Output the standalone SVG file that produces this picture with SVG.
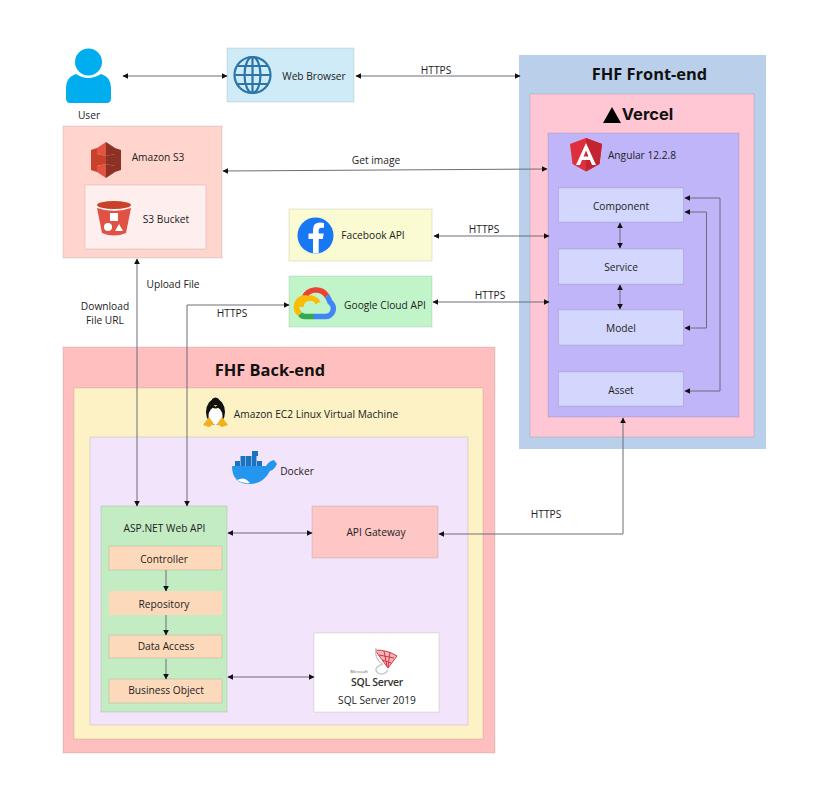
<svg xmlns="http://www.w3.org/2000/svg" width="830" height="800" viewBox="0 0 830 800">
<style>
text{font-family:"Open Sans","Noto Sans","Liberation Sans",sans-serif;font-size:10.200px;fill:#222;text-anchor:middle}
.h{font-size:16.400px;font-weight:700;fill:#111}
.b{stroke:#000;stroke-opacity:.1;stroke-width:1}
.c{fill:none;stroke:#6d6d7a;stroke-width:1;marker-start:url(#a);marker-end:url(#a)}
.e{fill:none;stroke:#6d6d7a;stroke-width:1;marker-end:url(#a)}
</style>
<defs>
<marker id="a" viewBox="0 0 10 10" refX="9" refY="5" markerWidth="6" markerHeight="6" markerUnits="userSpaceOnUse" orient="auto-start-reverse"><path d="M0 0L10 5L0 10Z" fill="#111"/></marker>
</defs>
<rect width="830" height="800" fill="#fff"/>

<g id="user">
<circle cx="88.500" cy="62" r="13.500" fill="#00adef"/>
<path d="M70 103Q66 103 66 98V88Q66 77 76 74Q88 82 101 74Q111 77 111 88V98Q111 103 107 103Z" fill="#00adef"/>
<text x="89" y="119">User</text>
</g>

<g id="web-browser">
<rect class="b" x="227" y="48" width="127" height="54" fill="#cfebf7"/>
<g fill="none" stroke="#2a76a8" stroke-width="2.200">
<circle cx="252.500" cy="75" r="18"/><ellipse cx="252.500" cy="75" rx="8" ry="18"/>
<path d="M252.500 57V93M234.500 75H270.500M237 66H268M237 84H268"/>
</g>
<text x="314" y="80">Web Browser</text>
</g>

<g id="amazon-s3">
<rect class="b" x="63" y="126" width="159" height="132" fill="#ffd5ce"/>
<path d="M91 150L97 148V172L91 170Z" fill="#c8412b"/>
<path d="M121 150L115 148V172L121 170Z" fill="#8c3123"/>
<path d="M97 148L106 142V156L97 154Z" fill="#e05243"/>
<path d="M115 148L106 142V156L115 154Z" fill="#8c3123"/>
<path d="M97 154L106 156V164L97 166Z" fill="#c8412b"/>
<path d="M115 154L106 156V164L115 166Z" fill="#8c3123"/>
<path d="M97 166L106 164V178L97 172Z" fill="#e05243"/>
<path d="M115 166L106 164V178L115 172Z" fill="#8c3123"/>
<text x="158" y="161">Amazon S3</text>
</g>

<g id="s3-bucket">
<rect class="b" x="85" y="185" width="121" height="64" fill="#ffeeee"/>
<ellipse cx="114" cy="205" rx="17" ry="4" fill="#c8412b"/>
<path d="M97 208Q114 214 131 208L126 233Q114 238 102 233Z" fill="#e05243"/>
<rect x="110" y="213" width="8" height="8" fill="#fff"/>
<circle cx="108" cy="227" r="4" fill="#fff"/>
<path d="M115 231L119 224L123 231Z" fill="#fff"/>
<text x="166" y="223">S3 Bucket</text>
</g>

<g id="facebook-api">
<rect class="b" x="289" y="209" width="143" height="52" fill="#fbfbd3"/>
<circle cx="315.500" cy="235.500" r="18" fill="#1877f2"/>
<path d="M313 253.300V239H308.500V233.500H313V229.500Q313 222.500 320 222.500L324 223V227.800H321.500Q318.700 227.800 318.700 230.500V233.500H323.700L322.800 239H318.700V253.300Z" fill="#fff"/>
<text x="373" y="239">Facebook API</text>
</g>

<g id="google-cloud-api">
<rect class="b" x="289" y="276" width="143" height="51" fill="#c1f5c9"/>
<g fill="none" stroke-width="5.500">
<path d="M304 298A13 13 0 0 1 327 296" stroke="#ea4335"/>
<path d="M327 296Q329 299 330 302A8 8 0 0 1 325 316.500H314" stroke="#4285f4"/>
<path d="M314 316.500H305Q302 316.500 300 314" stroke="#34a853"/>
<path d="M300 314A9 9 0 0 1 304 298H307" stroke="#fbbc05"/>
<path d="M301 307A9 9 0 0 1 318 303" stroke="#fbbc05"/>
</g>
<text x="385" y="309">Google Cloud API</text>
</g>

<g id="fhf-front-end">
<rect x="519" y="55" width="247" height="394" fill="#b9cfea"/>
<text class="h" x="649.500" y="79.500">FHF Front-end</text>
</g>

<g id="vercel">
<rect class="b" x="530" y="94" width="224" height="343" fill="#ffc6d4"/>
<path d="M603 123L612 107L621 123Z" fill="#000"/>
<text x="647.500" y="120" style="font-size:16.500px;font-weight:700;font-family:Inter,'Liberation Sans',sans-serif;fill:#111">Vercel</text>
</g>

<g id="angular">
<rect class="b" x="548" y="133" width="191" height="284" fill="#bfb5f8"/>
<path d="M586 138L570 144L572.500 164L586 171.500L599.500 164L602 144Z" fill="#dd2f3d"/>
<path d="M586 138L602 144L599.500 164L586 171.500Z" fill="#c3242f"/>
<path d="M586 143L576 165H580L582 160H590L592 165H596ZM583.500 156.500L586 150.500L588.500 156.500Z" fill="#fff"/>
<text x="642" y="159">Angular 12.2.8</text>
</g>

<g id="component"><rect class="b" x="558.500" y="188" width="125" height="34" fill="#d3d7fd"/><text x="621" y="210">Component</text></g>
<g id="service"><rect class="b" x="558.500" y="249" width="125" height="35" fill="#d3d7fd"/><text x="621" y="271">Service</text></g>
<g id="model"><rect class="b" x="558.500" y="310" width="125" height="35" fill="#d3d7fd"/><text x="621" y="332">Model</text></g>
<g id="asset"><rect class="b" x="558.500" y="372" width="125" height="34" fill="#d3d7fd"/><text x="621" y="394">Asset</text></g>

<g id="fhf-back-end">
<rect class="b" x="63" y="347" width="432" height="406" fill="#ffbfbf"/>
<text class="h" x="270" y="376">FHF Back-end</text>
</g>

<g id="ec2">
<rect class="b" x="74" y="388" width="409" height="351" fill="#fcf2c5"/>
<ellipse cx="215.500" cy="412" rx="9.500" ry="13" fill="#111"/>
<ellipse cx="215.500" cy="416" rx="7" ry="9" fill="#fff"/>
<ellipse cx="215.500" cy="403" rx="4.500" ry="5.500" fill="#111"/>
<path d="M203 425L209 417L214 424L209 427ZM228 425L222 417L217 424L222 427Z" fill="#f2b01e"/>
<path d="M213.500 405H217.500L215.500 407Z" fill="#f2b01e"/>
<text x="316" y="418">Amazon EC2 Linux Virtual Machine</text>
</g>

<g id="docker">
<rect class="b" x="90" y="437" width="378" height="288" fill="#f2e4fa"/>
<path d="M232 466H266Q269 461 274 460L277 464H277Q274 470 270 471Q263 484 250 484Q232 484 232 466Z" fill="#2496ed"/>
<g fill="#1a72c0"><rect x="235" y="461" width="5" height="5"/><rect x="240.500" y="461" width="5" height="5"/><rect x="246" y="461" width="5" height="5"/><rect x="251.500" y="461" width="5" height="5"/><rect x="257" y="461" width="5" height="5"/><rect x="240.500" y="456" width="5" height="5"/><rect x="246" y="456" width="5" height="5"/><rect x="251.500" y="456" width="5" height="5"/><rect x="252" y="451" width="6" height="5"/></g>
<path d="M237 480Q243 477 247 480L250 483Q243 484 237 480Z" fill="#fff"/>
<text x="297" y="475">Docker</text>
</g>

<g id="asp-net-web-api">
<rect class="b" x="101" y="506" width="126" height="206" fill="#c3ecc3"/>
<text x="164.500" y="532">ASP.NET Web API</text>
</g>
<g id="controller"><rect class="b" x="109" y="546" width="113" height="24" fill="#fdd9bb"/><text x="164" y="563">Controller</text></g>
<g id="repository"><rect x="109" y="591" width="113" height="24" fill="#fdd9bb"/><text x="164" y="608">Repository</text></g>
<g id="data-access"><rect class="b" x="109" y="635" width="113" height="23" fill="#fdd9bb"/><text x="166" y="650">Data Access</text></g>
<g id="business-object"><rect class="b" x="109" y="679" width="113" height="24" fill="#fdd9bb"/><text x="166" y="694">Business Object</text></g>

<g id="api-gateway">
<rect class="b" x="312" y="506" width="126" height="52" fill="#ffc6c6"/>
<text x="376" y="536">API Gateway</text>
</g>

<g id="sql-server">
<rect class="b" x="314" y="633" width="125" height="79" fill="#fff"/>
<g fill="none" stroke="#d8343f" stroke-width="1">
<path d="M375 650Q388 650 397 656L388 668Q382 660 375 650Z" fill="#d8343f" fill-opacity=".35"/>
<path d="M379 655L394 658M382 660L391 663M384 651L387 666M390 652L388 667"/>
</g>
<path d="M376 648Q374 658 382 664" fill="none" stroke="#ccc" stroke-width="1.500"/>
<path d="M383 664Q372 668 378 673Q384 676 388 670" fill="none" stroke="#ccc" stroke-width="1.500"/>
<text x="359" y="672.500" style="font-size:4px;fill:#555">Microsoft</text>
<text x="377" y="686" style="font-size:10.500px;font-weight:600;letter-spacing:-.3px;fill:#333">SQL Server</text>
<text x="377" y="704">SQL Server 2019</text>
</g>

<g id="connectors">
<path class="c" d="M123 76H227"/>
<path class="c" d="M356 76H520"/>
<path class="c" d="M223 171L547 169"/>
<path class="c" d="M434 236H549"/>
<path class="c" d="M433 302H549"/>
<path class="c" d="M137 259V506"/>
<path class="c" d="M289 305H187V506"/>
<path class="c" d="M228 533H312"/>
<path class="c" d="M439 534H623V418"/>
<path class="c" d="M228 677H314"/>
<path class="c" d="M620 223V248"/>
<path class="c" d="M620 285V309"/>
<path class="c" d="M685 198H720V391H685"/>
<path class="c" d="M685 212H706.500V328H685"/>
<path class="e" d="M166 570V591"/>
<path class="e" d="M166 615V635"/>
<path class="e" d="M166 659V679"/>
</g>

<g id="connector-labels">
<text x="436" y="74">HTTPS</text>
<text x="376" y="164">Get image</text>
<text x="484" y="233">HTTPS</text>
<text x="490" y="299">HTTPS</text>
<text x="173" y="288">Upload File</text>
<text x="105" y="310">Download</text>
<text x="105" y="324">File URL</text>
<text x="232" y="317">HTTPS</text>
<text x="546" y="518">HTTPS</text>
</g>
</svg>
